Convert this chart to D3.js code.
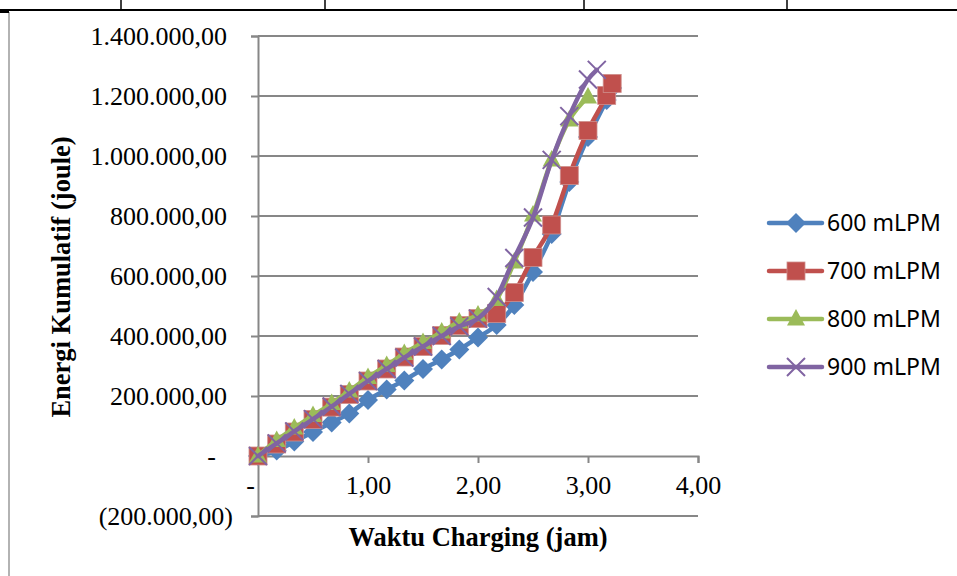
<!DOCTYPE html>
<html>
<head>
<meta charset="utf-8">
<script src="https://cdn.jsdelivr.net/npm/d3@7"></script>
<style>
html,body{margin:0;padding:0;background:#fff;}
svg{display:block;}
</style>
</head>
<body>
<svg id="chart" width="957" height="576"></svg>
<script>
// ---- data ----
const seriesNames = ["600 mLPM", "700 mLPM", "800 mLPM", "900 mLPM"];
const seriesColors = ["#4F81BD", "#C0504D", "#9BBB59", "#8064A2"];
const seriesMarkers = ["diamond", "square", "triangle", "x"];

const time600 = [0, 0.17, 0.33, 0.5, 0.67, 0.83, 1.0, 1.17, 1.33, 1.5, 1.67, 1.83, 2.0, 2.17, 2.33, 2.5, 2.67, 2.83, 3.0, 3.17, 3.22];
const energy600 = [0, 18000, 48000, 80000, 112000, 142000, 187000, 222000, 252000, 290000, 322000, 355000, 395000, 437000, 503000, 613000, 740000, 913000, 1063000, 1187000, 1227000];

const time700 = [0, 0.17, 0.33, 0.5, 0.67, 0.83, 1.0, 1.17, 1.33, 1.5, 1.67, 1.83, 2.0, 2.17, 2.33, 2.5, 2.67, 2.83, 3.0, 3.17, 3.22];
const energy700 = [0, 40000, 80000, 122000, 163000, 205000, 250000, 290000, 330000, 365000, 402000, 435000, 458000, 475000, 545000, 662000, 770000, 935000, 1085000, 1202000, 1242000];

const time800 = [0, 0.17, 0.33, 0.5, 0.67, 0.83, 1.0, 1.17, 1.33, 1.5, 1.67, 1.83, 2.0, 2.17, 2.33, 2.5, 2.67, 2.83, 3.0];
const energy800 = [0, 52000, 93000, 135000, 175000, 217000, 262000, 302000, 342000, 378000, 413000, 447000, 470000, 522000, 647000, 803000, 987000, 1120000, 1197000];

const time900 = [0, 0.17, 0.33, 0.5, 0.67, 0.83, 1.0, 1.17, 1.33, 1.5, 1.67, 1.83, 2.0, 2.17, 2.33, 2.5, 2.67, 2.83, 3.0, 3.08];
const energy900 = [0, 42000, 82000, 123000, 165000, 207000, 250000, 290000, 328000, 365000, 400000, 432000, 458000, 530000, 660000, 795000, 987000, 1133000, 1255000, 1287000];

const xTicks = [0, 1, 2, 3, 4];
const yTicks = [-200000, 0, 200000, 400000, 600000, 800000, 1000000, 1200000, 1400000];

const yTitle = "Energi Kumulatif (joule)";
const xTitle = "Waktu Charging (jam)";

// ---- build ----
const series = [
  {name: seriesNames[0], t: time600, v: energy600},
  {name: seriesNames[1], t: time700, v: energy700},
  {name: seriesNames[2], t: time800, v: energy800},
  {name: seriesNames[3], t: time900, v: energy900}
].map((s, i) => ({...s, color: seriesColors[i], marker: seriesMarkers[i],
  pts: s.t.map((t, j) => ({t, v: s.v[j]}))}));

const svg = d3.select("#chart");
const W = 957, H = 576;

// document table decoration at top + chart frame
svg.append("line").attr("x1", 0).attr("x2", W).attr("y1", 10).attr("y2", 10)
  .attr("stroke", "#000").attr("stroke-width", 2);
[121, 325, 584, 787].forEach(xx => {
  svg.append("line").attr("x1", xx).attr("x2", xx).attr("y1", 0).attr("y2", 10)
    .attr("stroke", "#000").attr("stroke-width", 1.5);
});
svg.append("line").attr("x1", 9).attr("x2", 9).attr("y1", 12).attr("y2", H)
  .attr("stroke", "#9a9a9a").attr("stroke-width", 1.5);
svg.append("line").attr("x1", 0).attr("x2", 9).attr("y1", 12).attr("y2", 12)
  .attr("stroke", "#000").attr("stroke-width", 2);

const x = d3.scaleLinear().domain([0, 4]).range([258, 698]);
const y = d3.scaleLinear().domain([-200000, 1400000]).range([516, 36]);

const loc = d3.formatLocale({decimal: ",", thousands: ".", grouping: [3], currency: ["", ""]});
const fnum = loc.format(",.2f");
const yFmt = v => v === 0 ? "-" : (v < 0 ? "(" + fnum(-v) + ")" : fnum(v));
const xFmt = v => v === 0 ? "-" : fnum(v);

const gridColor = "#878787";
const serif = "'Liberation Serif', 'Times New Roman', serif";

// gridlines
svg.append("g").selectAll("line").data(yTicks.filter(v => v !== 0)).join("line")
  .attr("x1", x(0)).attr("x2", x(4))
  .attr("y1", d => y(d)).attr("y2", d => y(d))
  .attr("stroke", gridColor).attr("stroke-width", 2);

// y axis
const yAxis = d3.axisLeft(y).tickValues(yTicks).tickFormat(yFmt).tickSize(7).tickPadding(24);
const gy = svg.append("g").attr("transform", `translate(${x(0)},0)`).call(yAxis);
gy.select(".domain").attr("stroke", gridColor).attr("stroke-width", 2);
gy.selectAll(".tick line").attr("stroke", gridColor).attr("stroke-width", 2);
gy.selectAll(".tick text")
  .attr("font-family", serif)
  .attr("font-size", 26).attr("fill", "#000")
  .attr("dx", d => d < 0 ? 6 : (d === 0 ? -11 : 0));

// x axis at y=0
const xAxis = d3.axisBottom(x).tickValues(xTicks).tickFormat(xFmt).tickSize(7).tickPadding(13);
const gx = svg.append("g").attr("transform", `translate(0,${y(0)})`).call(xAxis);
gx.select(".domain").attr("stroke", gridColor).attr("stroke-width", 2);
gx.selectAll(".tick line").attr("stroke", gridColor).attr("stroke-width", 2)
  .attr("display", d => d === 0 ? "none" : null);
gx.selectAll(".tick text")
  .attr("font-family", serif)
  .attr("font-size", 26).attr("fill", "#000")
  .attr("dx", d => d === 0 ? -8 : 0);

// titles
svg.append("text").attr("x", x(2)).attr("y", 546).attr("text-anchor", "middle")
  .attr("font-family", serif)
  .attr("font-weight", "bold").attr("font-size", 26.5).text(xTitle);
svg.append("text").attr("transform", "translate(70,277) rotate(-90)").attr("text-anchor", "middle")
  .attr("font-family", serif)
  .attr("font-weight", "bold").attr("font-size", 26.5).text(yTitle);

// marker drawing
function drawMarker(g, type, color) {
  if (type === "diamond") {
    g.append("path").attr("d", "M0,-10L10,0L0,10L-10,0Z").attr("fill", color);
  } else if (type === "square") {
    g.append("rect").attr("x", -9).attr("y", -9).attr("width", 18).attr("height", 18)
      .attr("fill", color).attr("stroke", "#cf8f8d").attr("stroke-width", 0.8);
  } else if (type === "triangle") {
    g.append("path").attr("d", "M0,-10L9,6.5L-9,6.5Z").attr("fill", color);
  } else if (type === "x") {
    g.append("path").attr("d", "M-9,-9L9,9M-9,9L9,-9").attr("stroke", color)
      .attr("stroke-width", 2).attr("fill", "none");
  }
}

const line = d3.line().x(d => x(d.t)).y(d => y(d.v)).curve(d3.curveMonotoneX);

series.forEach(s => {
  const g = svg.append("g");
  g.append("path").datum(s.pts).attr("d", line)
    .attr("fill", "none").attr("stroke", s.color).attr("stroke-width", 4.5)
    .attr("stroke-linejoin", "round").attr("stroke-linecap", "round");
  g.selectAll("g.m").data(s.pts).join("g").attr("class", "m")
    .attr("transform", d => `translate(${x(d.t)},${y(d.v)})`)
    .each(function() { drawMarker(d3.select(this), s.marker, s.color); });
});

// legend
const legY = [223, 271, 319, 367];
series.forEach((s, i) => {
  const g = svg.append("g").attr("transform", `translate(0,${legY[i]})`);
  g.append("line").attr("x1", 769).attr("x2", 822).attr("y1", 0).attr("y2", 0)
    .attr("stroke", s.color).attr("stroke-width", 4.5).attr("stroke-linecap", "round");
  const mg = g.append("g").attr("transform", "translate(796,0)");
  drawMarker(mg, s.marker, s.color);
  g.append("text").attr("x", 827).attr("y", 0).attr("dy", "0.35em")
    .attr("font-family", "'Noto Sans', 'Open Sans', sans-serif").attr("font-size", 23)
    .attr("fill", "#000").text(s.name);
});
</script>
</body>
</html>
